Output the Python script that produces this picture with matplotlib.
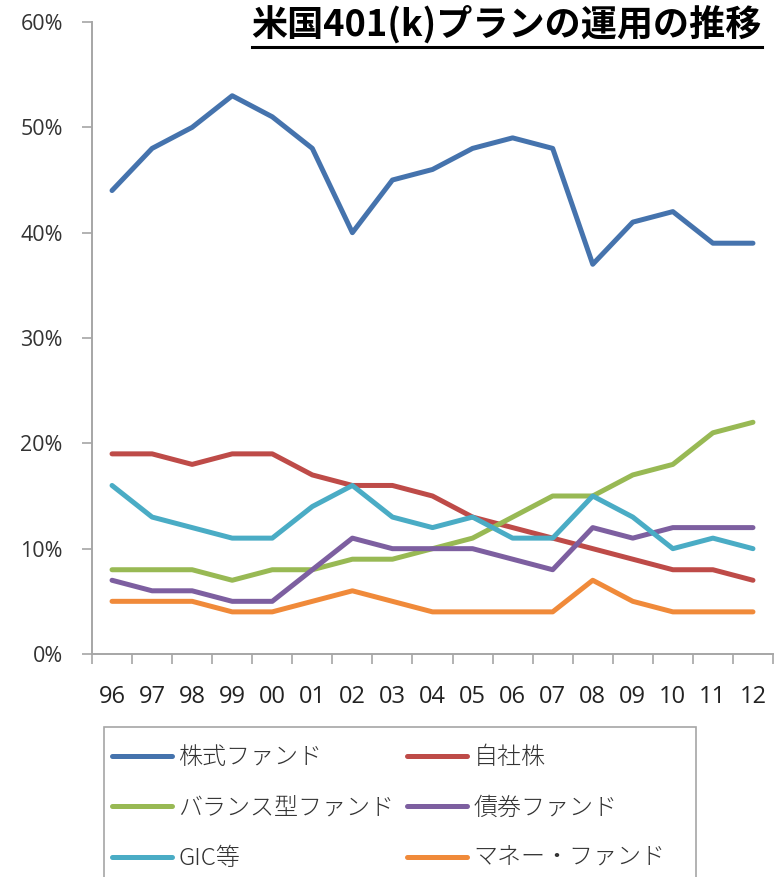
import matplotlib

matplotlib.use("Agg")
import matplotlib.pyplot as plt
from matplotlib.patches import Rectangle
from matplotlib.ticker import FixedLocator, NullFormatter, PercentFormatter

plt.rcParams["font.family"] = ["Noto Sans CJK JP", "DejaVu Sans"]

years = ["96", "97", "98", "99", "00", "01", "02", "03", "04",
         "05", "06", "07", "08", "09", "10", "11", "12"]

equity_funds = [44, 48, 50, 53, 51, 48, 40, 45, 46, 48, 49, 48, 37, 41, 42, 39, 39]
company_stock = [19, 19, 18, 19, 19, 17, 16, 16, 15, 13, 12, 11, 10, 9, 8, 8, 7]
balanced_funds = [8, 8, 8, 7, 8, 8, 9, 9, 10, 11, 13, 15, 15, 17, 18, 21, 22]
bond_funds = [7, 6, 6, 5, 5, 8, 11, 10, 10, 10, 9, 8, 12, 11, 12, 12, 12]
gic = [16, 13, 12, 11, 11, 14, 16, 13, 12, 13, 11, 11, 15, 13, 10, 11, 10]
money_funds = [5, 5, 5, 4, 4, 5, 6, 5, 4, 4, 4, 4, 7, 5, 4, 4, 4]

series = [
    ("株式ファンド", equity_funds, "#4573ad"),
    ("自社株", company_stock, "#be4b48"),
    ("バランス型ファンド", balanced_funds, "#98b954"),
    ("債券ファンド", bond_funds, "#7d5fa0"),
    ("GIC等", gic, "#4aacc5"),
    ("マネー・ファンド", money_funds, "#f08a3a"),
]

W, H = 774, 877
fig = plt.figure(figsize=(W / 100, H / 100), dpi=100)
fig.patch.set_facecolor("white")
ax = fig.add_axes([92 / W, 1 - 654 / H, (773 - 92) / W, (654 - 22) / H])

x = list(range(len(years)))
lines = []
for label, values, color in series:
    (line,) = ax.plot(x, values, color=color, linewidth=3.6, solid_joinstyle="round",
                      solid_capstyle="round", label=label, clip_on=False)
    lines.append(line)

ax.set_xlim(-0.5, len(years) - 0.5)
ax.set_ylim(0, 60)
ax.set_yticks(range(0, 61, 10))
ax.yaxis.set_major_formatter(PercentFormatter(decimals=0))
ax.set_xticks(x)
ax.set_xticklabels(years)
ax.xaxis.set_minor_locator(FixedLocator([i - 0.5 for i in range(len(years) + 1)]))
ax.xaxis.set_minor_formatter(NullFormatter())
ax.tick_params(axis="x", which="major", length=0, pad=22, labelsize=17,
               labelcolor="#222222")
ax.tick_params(axis="x", which="minor", length=7, width=1.2, color="#a6a6a6",
               direction="out")
ax.tick_params(axis="y", length=7, width=1.2, color="#a6a6a6", pad=14,
               labelsize=15.5, labelcolor="#333333")
for lbl in ax.get_xticklabels() + ax.get_yticklabels():
    lbl.set_family(["Open Sans", "DejaVu Sans"])

for side in ("top", "right"):
    ax.spines[side].set_visible(False)
for side in ("left", "bottom"):
    ax.spines[side].set_color("#a6a6a6")
    ax.spines[side].set_linewidth(1.4)

# title with underline, right-aligned at the top
title = fig.text(762 / W, 1 - 24 / H, "米国401(k)プランの運用の推移",
                 ha="right", va="center", fontsize=26, fontweight="bold",
                 color="black")
fig.canvas.draw()
bb = title.get_window_extent().transformed(fig.transFigure.inverted())
fig.add_artist(plt.Line2D([bb.x0, 762 / W], [1 - 47 / H, 1 - 47 / H],
                          transform=fig.transFigure, color="black", linewidth=2.2))

# legend: two columns filled row by row, box runs off the bottom edge
order = [0, 2, 4, 1, 3, 5]
legend = fig.legend(
    [lines[i] for i in order],
    [series[i][0] for i in order],
    loc="upper left",
    bbox_to_anchor=(112 / W, 1 - 745 / H),
    ncol=2,
    prop={"family": ["Noto Sans CJK JP", "DejaVu Sans"], "size": 17.3,
          "weight": "light"},
    frameon=False,
    handlelength=2.5,
    handletextpad=0.25,
    columnspacing=0.55,
    labelspacing=1.06,
    borderpad=0,
    borderaxespad=0,
)
for text in legend.get_texts():
    text.set_color("#333333")
fig.add_artist(Rectangle((104 / W, -0.01), (696 - 104) / W, 0.01 + (H - 727) / H,
                         transform=fig.transFigure, fill=False,
                         edgecolor="#a6a6a6", linewidth=1.2))

fig.savefig("out.png", dpi=100, facecolor="white")
